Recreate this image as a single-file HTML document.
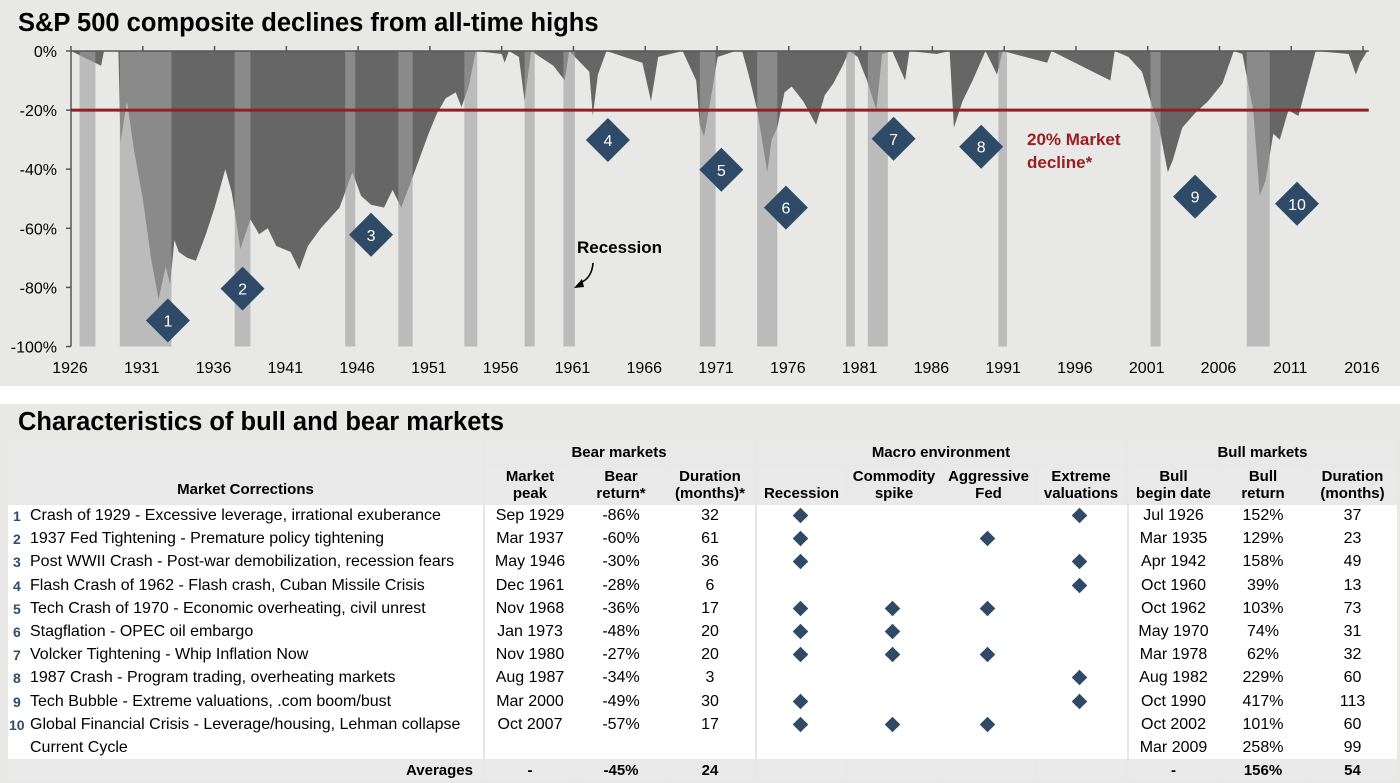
<!DOCTYPE html>
<html><head><meta charset="utf-8">
<style>
*{margin:0;padding:0;box-sizing:border-box}
body{width:1400px;height:783px;background:#fff;font-family:"Liberation Sans",Arial,sans-serif;position:relative;overflow:hidden;color:#000}
#panel1{position:absolute;left:0;top:0;width:1400px;height:386px;background:#e8e8e6}
#panel2{position:absolute;left:0;top:404px;width:1400px;height:379px;background:#e8e8e6}
.t{position:absolute;white-space:nowrap}
.cell{position:absolute;background:#e9e9e9;font-weight:bold;font-size:15px;text-align:center;line-height:17px;display:flex;align-items:center;justify-content:center}
.body{position:absolute;background:#fff}
.txt{position:absolute;font-size:16px;white-space:nowrap;line-height:18px}
.dia{position:absolute;width:11px;height:11px;background:#2e4a66;transform:rotate(45deg)}
</style></head><body>
<div id="panel1"></div>
<div id="panel2"></div>
<div class="t" style="left:18px;top:9px;font-size:25.5px;font-weight:bold">S&amp;P 500 composite declines from all-time highs</div>
<svg id="chart" width="1400" height="386" style="position:absolute;left:0;top:0"></svg>
<div class="t" style="left:18px;top:408px;font-size:25.5px;font-weight:bold">Characteristics of bull and bear markets</div>
<div id="table"></div>
<script>
// ---- chart data ----
const ddYears=[1926,1928.1,1928.3,1929.3,1929.45,1929.9,1930.4,1931.0,1931.6,1932.1,1932.6,1932.9,1933.2,1933.5,1934.1,1934.7,1935.4,1936.0,1936.75,1937.2,1937.8,1938.5,1939.1,1939.7,1940.3,1941.3,1941.9,1942.5,1943.4,1944.7,1945.6,1946.2,1946.9,1947.8,1948.4,1949.0,1949.7,1950.3,1950.9,1951.5,1952.1,1952.8,1953.2,1953.7,1954.2,1956.0,1956.2,1956.5,1957.2,1957.6,1958.05,1959.6,1960.4,1960.7,1962.1,1962.35,1962.7,1963.3,1965.8,1966.4,1966.9,1968.6,1969.55,1969.8,1970.1,1970.6,1971.05,1972.3,1972.75,1973.2,1973.8,1974.5,1974.8,1975.2,1975.7,1976.2,1977.0,1977.9,1978.5,1979.1,1979.75,1980.2,1980.8,1981.45,1982.1,1982.5,1983.2,1984.1,1984.4,1986.3,1987.2,1987.5,1988.1,1988.8,1989.7,1990.5,1990.9,1994.0,1994.3,1998.4,1998.7,1999.65,2000.6,2001.2,2001.8,2002.4,2002.75,2003.4,2004.3,2005.2,2006.2,2007.0,2007.6,2008.35,2008.8,2009.2,2009.75,2010.2,2010.8,2011.5,2012.1,2012.7,2015.0,2015.5,2015.8,2016.3];
const ddValues=[0,-5,0,0,-31,-17,-34,-50,-71,-84,-73,-79,-64,-68,-70,-71,-62,-53,-40,-48,-67,-57,-62,-60,-66,-68,-74,-66,-60,-53,-41,-49,-52,-53,-47,-53,-44,-36,-28,-21,-16,-14,-19,-12,0,-1,-4,0,-2,-17,0,-5,-10,0,-7,-22,-8,0,-4,-17,-2,0,-10,-25,-29,-15,-2,0,0,-8,-20,-41,-30,-26,-14,-12,-17,-25,-15,-11,-5,0,-2,-10,-20,-1,0,-10,0,-1,0,-26,-17,-10,0,-8,0,-4,0,-10,0,-2,-7,-17,-26,-41,-37,-26,-21,-17,-11,0,-1,-20,-49,-44,-28,-30,-20,-22,-11,0,-1,-8,-4,0];
const recStart=[1926.6,1929.4,1937.4,1945.1,1948.8,1953.4,1957.6,1960.3,1969.8,1973.8,1980.0,1981.5,1990.6,2001.2,2007.9];
const recEnd=[1927.7,1933.0,1938.5,1945.8,1949.8,1954.3,1958.3,1961.1,1970.9,1975.2,1980.6,1982.9,1991.2,2001.9,2009.5];
const xTicks=[1926,1931,1936,1941,1946,1951,1956,1961,1966,1971,1976,1981,1986,1991,1996,2001,2006,2011,2016];
const yTicks=[0,-20,-40,-60,-80,-100];
const mkLabels=["1","2","3","4","5","6","7","8","9","10"];
const mkYears=[1932.75,1937.95,1946.9,1963.4,1971.3,1975.8,1983.3,1989.4,2004.3,2011.4];
const mkValues=[-91.2,-80.4,-62.2,-30.1,-40.2,-53.0,-29.7,-32.4,-49.3,-51.7];
const threshold=-20;

const X=y=>71+(y-1926)*14.356;
const Y=v=>51-v*2.955;
const NS="http://www.w3.org/2000/svg";
const svg=document.getElementById('chart');
function mk(tag,attrs){const e=document.createElementNS(NS,tag);for(const k in attrs)e.setAttribute(k,attrs[k]);svg.appendChild(e);return e;}

let d='M'+X(ddYears[0])+','+Y(0);
ddYears.forEach((yr,i)=>{d+=' L'+X(yr).toFixed(1)+','+Y(ddValues[i]).toFixed(1);});
d+=' L'+X(ddYears[ddYears.length-1])+','+Y(0)+' Z';
const area=mk('path',{d:d,fill:'#666'});



recStart.forEach((s,i)=>{
  const r=mk('rect',{x:X(s),y:Y(0),width:X(recEnd[i])-X(s),height:Y(-100)-Y(0),fill:'rgb(160,160,160)','fill-opacity':0.62});
  
  
});

const ax=mk('line',{x1:X(1926),y1:Y(0),x2:X(2016.4),y2:Y(0),stroke:'#555','stroke-width':1.5});


const ay=mk('line',{x1:X(1926),y1:Y(0),x2:X(1926),y2:Y(-100),stroke:'#555','stroke-width':1.5});



xTicks.forEach(t=>{
  const tk=mk('line',{x1:X(t),y1:Y(0)-5,x2:X(t),y2:Y(0),stroke:'#555','stroke-width':1.5});
  
  
  const tx=mk('text',{x:X(t)-1,y:373,'text-anchor':'middle','font-size':16,'font-family':'Liberation Sans, sans-serif',fill:'#000'});
  tx.textContent=t;
  
  
});
yTicks.forEach(t=>{
  const tk=mk('line',{x1:X(1926)-5,y1:Y(t),x2:X(1926),y2:Y(t),stroke:'#555','stroke-width':1.5});
  
  
  const tx=mk('text',{x:57,y:Y(t)+6,'text-anchor':'end','font-size':16,'font-family':'Liberation Sans, sans-serif',fill:'#000'});
  tx.textContent=t+'%';
  
  
});

const th=mk('line',{x1:X(1926),y1:Y(threshold),x2:X(2016.4),y2:Y(threshold),stroke:'#9a1d1d','stroke-width':3});



mkLabels.forEach((lab,i)=>{
  const cx=X(mkYears[i]),cy=Y(mkValues[i]),r=22;
  const p=mk('polygon',{points:`${cx},${cy-r} ${cx+r},${cy} ${cx},${cy+r} ${cx-r},${cy}`,fill:'#2e4a66'});
  
  
  const tx=mk('text',{x:cx,y:cy+6,'text-anchor':'middle','font-size':16,'font-family':'Liberation Sans, sans-serif',fill:'#fff'});
  tx.textContent=lab;
  
  
});

const l1=mk('text',{x:1027,y:145,'font-size':17,'font-weight':'bold','font-family':'Liberation Sans, sans-serif',fill:'#9a1d1d'});
l1.textContent='20% Market';


const l2=mk('text',{x:1027,y:168,'font-size':17,'font-weight':'bold','font-family':'Liberation Sans, sans-serif',fill:'#9a1d1d'});
l2.textContent='decline*';


const rl=mk('text',{x:577,y:253,'font-size':17,'font-weight':'bold','font-family':'Liberation Sans, sans-serif',fill:'#000'});
rl.textContent='Recession';


const arr=mk('path',{d:'M593,263 Q592,278 580,283',stroke:'#000','stroke-width':1.6,fill:'none'});


const ah=mk('polygon',{points:'574,288 582,279 584,287',fill:'#000'});



// ---- table ----
const T=document.getElementById('table');
function add(el,name){T.appendChild(el);return el;}
function cell(x,y,w,h,html,name){const c=document.createElement('div');c.className='cell';c.style.cssText=`left:${x}px;top:${y}px;width:${w}px;height:${h}px`;c.innerHTML=html;return add(c,name);}
const cols=[[485,90],[577,88],[667,86],[757,89],[848,92],[942,93],[1037,88],[1129,89],[1220,86],[1308,89]];
const b=document.createElement('div');b.className='body';b.style.cssText='left:8px;top:505px;width:1389px;height:254px';add(b,'table-body');
[483,755,1127].forEach(x=>{const s=document.createElement('div');s.style.cssText=`position:absolute;left:${x}px;top:505px;width:2px;height:254px;background:#e6e6e6`;add(s,'column-separator');});
cell(8,441,475,62,'<span style="margin-top:34px">Market Corrections</span>','header-market-corrections');
cell(485,441,268,23,'Bear markets','header-bear-markets');
cell(757,441,368,23,'Macro environment','header-macro-environment');
cell(1129,441,267,23,'Bull markets','header-bull-markets');
const sub=['Market<br>peak','Bear<br>return*','Duration<br>(months)*','<br>Recession','Commodity<br>spike','Aggressive<br>Fed','Extreme<br>valuations','Bull<br>begin date','Bull<br>return','Duration<br>(months)'];
sub.forEach((s,i)=>cell(cols[i][0],466,cols[i][1],37,s,'subheader-'+i));
const names=['Crash of 1929 - Excessive leverage, irrational exuberance','1937 Fed Tightening - Premature policy tightening','Post WWII Crash - Post-war demobilization, recession fears','Flash Crash of 1962 - Flash crash, Cuban Missile Crisis','Tech Crash of 1970 - Economic overheating, civil unrest','Stagflation - OPEC oil embargo','Volcker Tightening - Whip Inflation Now','1987 Crash - Program trading, overheating markets','Tech Bubble - Extreme valuations, .com boom/bust','Global Financial Crisis - Leverage/housing, Lehman collapse'];
const peak=['Sep 1929','Mar 1937','May 1946','Dec 1961','Nov 1968','Jan 1973','Nov 1980','Aug 1987','Mar 2000','Oct 2007'];
const bearRet=['-86%','-60%','-30%','-28%','-36%','-48%','-27%','-34%','-49%','-57%'];
const bearDur=['32','61','36','6','17','20','20','3','30','17'];
const macro=['1001','1010','1001','0001','1110','1100','1110','0001','1001','1110'];
const bullDate=['Jul 1926','Mar 1935','Apr 1942','Oct 1960','Oct 1962','May 1970','Mar 1978','Aug 1982','Oct 1990','Oct 2002','Mar 2009'];
const bullRet=['152%','129%','158%','39%','103%','74%','62%','229%','417%','101%','258%'];
const bullDur=['37','23','49','13','73','31','32','60','113','60','99'];
function txt(x,cy,s,name,center,w,extra){const t=document.createElement('div');t.className='txt';t.textContent=s;t.style.top=(cy-9)+'px';if(center){t.style.left=x+'px';t.style.width=w+'px';t.style.textAlign='center';}else t.style.left=x+'px';if(extra)t.style.cssText+=extra;return add(t,name);}
for(let i=0;i<11;i++){
  const cy=516+i*23.2;
  if(i<10){
    txt(i<9?13:9,cy,String(i+1),'row-number',false,0,'color:#2d4e6e;font-weight:bold;font-size:14px');
    txt(30,cy,names[i],'correction-name');
    txt(cols[0][0],cy,peak[i],'market-peak',true,cols[0][1]);
    txt(cols[1][0],cy,bearRet[i],'bear-return',true,cols[1][1]);
    txt(cols[2][0],cy,bearDur[i],'bear-duration',true,cols[2][1]);
    for(let k=0;k<4;k++){if(macro[i][k]==='1'){const dd=document.createElement('div');dd.className='dia';dd.style.left=(cols[3+k][0]+cols[3+k][1]/2-7)+'px';dd.style.top=(cy-6)+'px';add(dd,'macro-diamond');}}
  } else {
    txt(30,cy,'Current Cycle','current-cycle');
  }
  txt(cols[7][0],cy,bullDate[i],'bull-begin-date',true,cols[7][1]);
  txt(cols[8][0],cy,bullRet[i],'bull-return',true,cols[8][1]);
  txt(cols[9][0],cy,bullDur[i],'bull-duration',true,cols[9][1]);
}
const ay2=760,ah2=21;
cell(8,ay2,475,ah2,'<span style="margin-left:auto;margin-right:10px">Averages</span>','averages-label');
const avg=['-','-45%','24','','','','','-','156%','54'];
avg.forEach((s,i)=>cell(cols[i][0],ay2,cols[i][1],ah2,s,'averages-'+i));
</script>
</body></html>
